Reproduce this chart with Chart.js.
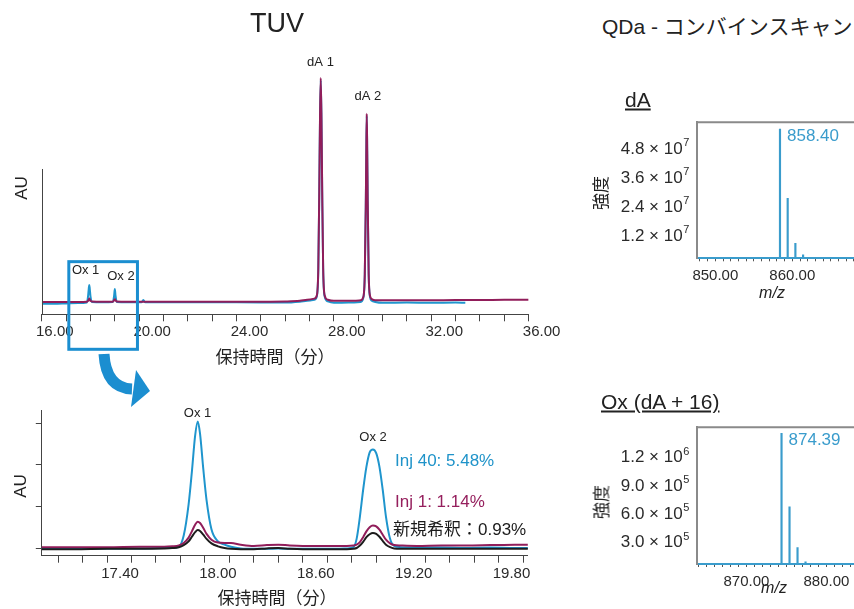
<!DOCTYPE html>
<html>
<head>
<meta charset="utf-8">
<script src="https://cdn.jsdelivr.net/npm/chart.js@4.4.1/dist/chart.umd.min.js"></script>
<style>
html, body { margin: 0; padding: 0; background: #fff; overflow: hidden; }
body { width: 854px; height: 609px; position: relative; font-family: "Liberation Sans", "Noto Sans CJK JP", sans-serif; color: #222; }
canvas { position: absolute; }
.c { position: absolute; white-space: nowrap; line-height: 1; transform: translate(-50%, -50%); }
.l { position: absolute; white-space: nowrap; line-height: 1; transform: translateY(-50%); }
.r { position: absolute; white-space: nowrap; line-height: 1; transform: translate(-50%, -50%) rotate(-90deg); }
</style>
</head>
<body>
<canvas id="tuvTop" width="580" height="380" style="left:0;top:0"></canvas>
<canvas id="tuvZoom" width="580" height="229" style="left:0;top:380px"></canvas>
<canvas id="msDA" width="310" height="210" style="left:560px;top:100px"></canvas>
<canvas id="msOx" width="310" height="204" style="left:560px;top:405px"></canvas>

<svg style="position:absolute;left:0;top:0" width="560" height="609">
  <path d="M104 354 Q106 388 132 389" stroke="#1b8ed0" stroke-width="11" fill="none"/>
  <polygon points="136,370 150,391 131,407" fill="#1b8ed0"/>
</svg>

<div class="c" style="left:277px;top:23px;font-size:27px">TUV</div>
<div class="l" style="left:602px;top:26px;font-size:21px">QDa - コンバインスキャン</div>
<div class="r" style="left:21px;top:188px;font-size:17px">AU</div>
<div class="r" style="left:20px;top:486px;font-size:17px">AU</div>
<div class="c" style="left:275px;top:357px;font-size:17px">保持時間（分）</div>
<div class="c" style="left:277px;top:598px;font-size:17px">保持時間（分）</div>
<div class="l" style="left:395px;top:460px;font-size:17px;color:#1f93c9">Inj 40: 5.48%</div>
<div class="l" style="left:395px;top:501px;font-size:17px;color:#951f5d">Inj 1: 1.14%</div>
<div class="l" style="left:393px;top:529px;font-size:17px;color:#1a1a1a">新規希釈：0.93%</div>
<div class="l" style="left:625px;top:99px;font-size:21px;text-decoration:underline">dA</div>
<div class="l" style="left:601px;top:401px;font-size:21px;text-decoration:underline">Ox (dA + 16)</div>
<div class="r" style="left:601px;top:193px;font-size:17px">強度</div>
<div class="r" style="left:602px;top:502px;font-size:17px">強度</div>
<div class="c" style="left:772px;top:293px;font-size:16px;font-style:italic">m/z</div>
<div class="c" style="left:774px;top:588px;font-size:16px;font-style:italic">m/z</div>

<script>
// TUV overview trace (minutes / AU, arbitrary units)
const topTime = [16.0, 16.5, 17.0, 17.5, 17.85, 17.9, 17.93, 17.95, 17.97, 18.0, 18.06, 18.5, 18.92, 18.97, 19.0, 19.03, 19.08, 19.5,
  20.1, 20.17, 20.25, 22.0, 24.0, 26.0, 26.6, 26.9, 27.2, 27.3, 27.36, 27.40, 27.43, 27.46, 27.49, 27.52, 27.56, 27.62, 27.75,
  28.0, 28.6, 29.1, 29.2, 29.27, 29.31, 29.33, 29.35, 29.37, 29.39, 29.43, 29.48, 29.56, 29.7, 30.0, 31.0, 32.0, 33.0, 33.4,
  34.0, 35.0, 36.0];
const topInj1 = [0, 0, 0, 0, 0.05, 0.2, 0.45, 0.6, 0.45, 0.2, 0.1, 0.05, 0.05, 0.3, 0.5, 0.3, 0.08, 0.05,
  0.05, 0.05, 0.05, 0.05, 0.05, 0.1, 0.2, 0.4, 0.6, 1.2, 6, 20, 33, 40, 33, 20, 6, 1.2, 0.4,
  0.2, 0.2, 0.3, 0.8, 5, 17, 26, 33.6, 27, 18, 5, 1.2, 0.5, 0.3, 0.3, 0.3, 0.3, 0.35, 0.35,
  0.35, 0.4, 0.4];
const topInj40 = [-0.3, -0.3, -0.25, -0.2, -0.1, 1.0, 2.4, 3.04, 2.4, 1.0, 0.0, -0.05, 0.0, 1.1, 2.3, 1.1, 0.0, -0.05,
  -0.05, 0.35, -0.05, -0.05, -0.05, -0.1, 0.05, 0.2, 0.4, 1.0, 5.8, 19.5, 32.5, 39.6, 32.5, 19.5, 5.8, 1.0, 0.1,
  -0.15, -0.1, 0.0, 0.6, 4.8, 16.5, 25.5, 33.2, 26.5, 17.5, 4.8, 1.0, 0.2, 0.0, -0.15, -0.1, -0.15, -0.1, -0.15,
  null, null, null];
const topTickLabelValues = [16, 20, 24, 28, 32, 36];
const topTickLabels = ['16.00', '20.00', '24.00', '28.00', '32.00', '36.00'];

// zoomed Ox region
const zoomTime = [17.00, 17.20, 17.40, 17.60, 17.75, 17.80, 17.84, 17.87, 17.90, 17.92, 17.94, 17.956, 17.97, 17.99, 18.01, 18.04,
  18.08, 18.12, 18.16, 18.22, 18.30, 18.38, 18.45, 18.52, 18.60, 18.70, 18.80, 18.87, 18.91, 18.93, 18.95, 18.97,
  18.99, 19.01, 19.03, 19.05, 19.07, 19.09, 19.11, 19.135, 19.16, 19.20, 19.30, 19.45, 19.60, 19.75, 19.90, 19.98];
const zoomInj40 = [-0.02, -0.02, -0.01, -0.01, 0.0, 0.0, 0.03, 0.3, 1.05, 1.83, 2.7, 3.04, 2.75, 1.9, 1.15, 0.45,
  0.16, 0.08, 0.03, -0.01, -0.02, -0.02, -0.01, -0.02, -0.02, -0.02, -0.02, -0.01, 0.02, 0.22, 0.75, 1.4,
  1.95, 2.3, 2.37, 2.28, 1.95, 1.4, 0.75, 0.22, 0.05, 0.02, 0.01, 0.01, 0.0, 0.01, 0.0, 0.0];
const zoomInj1 = [0.02, 0.02, 0.02, 0.03, 0.03, 0.04, 0.06, 0.12, 0.25, 0.40, 0.56, 0.63, 0.60, 0.48, 0.34, 0.20,
  0.13, 0.12, 0.12, 0.08, 0.05, 0.07, 0.08, 0.06, 0.05, 0.05, 0.05, 0.05, 0.06, 0.08, 0.14, 0.26,
  0.40, 0.50, 0.54, 0.52, 0.44, 0.32, 0.20, 0.11, 0.07, 0.06, 0.05, 0.06, 0.06, 0.07, 0.08, 0.08];
const zoomFresh = [-0.03, -0.03, -0.02, -0.02, -0.01, 0.0, 0.02, 0.07, 0.16, 0.27, 0.38, 0.43, 0.41, 0.32, 0.22, 0.11,
  0.04, 0.0, -0.02, -0.03, -0.03, -0.01, 0.0, -0.02, -0.03, -0.03, -0.03, -0.03, -0.02, 0.0, 0.06, 0.15,
  0.26, 0.33, 0.36, 0.34, 0.27, 0.17, 0.08, 0.02, -0.01, -0.02, -0.02, -0.02, -0.02, -0.02, -0.02, -0.02];
const zoomTicks = [17.10, 17.25, 17.40, 17.55, 17.70, 17.85, 18.00, 18.15, 18.30, 18.45, 18.60, 18.75, 18.90, 19.05,
  19.20, 19.35, 19.50, 19.65, 19.80, 19.95];
const zoomTickLabelValues = [17.40, 18.00, 18.60, 19.20, 19.80];
const zoomTickLabels = ['17.40', '18.00', '18.60', '19.20', '19.80'];

// QDa spectra
const dAmz = [858.40, 859.40, 860.40, 861.40];
const dAint = [5.33e7, 2.47e7, 0.62e7, 0.14e7];
const dAyTicks = [1.2e7, 2.4e7, 3.6e7, 4.8e7];
const dAyMant = ['1.2', '2.4', '3.6', '4.8'];
const dAyExp = ['7', '7', '7', '7'];
const dAxLabelValues = [850, 860];
const dAxLabels = ['850.00', '860.00'];

const oxMz = [874.39, 875.39, 876.39, 877.39];
const oxInt = [1.386e6, 0.607e6, 0.173e6, 0.024e6];
const oxYTicks = [3.0e5, 6.0e5, 9.0e5, 1.2e6];
const oxYMant = ['3.0', '6.0', '9.0', '1.2'];
const oxYExp = ['5', '5', '5', '6'];
const oxXLabelValues = [870, 880];
const oxXLabels = ['870.00', '880.00'];

const FONT = '"Liberation Sans", "Noto Sans CJK JP", sans-serif';
const BLUE = '#1f95cd';
const PURPLE = '#911d5a';
const BLACK = '#1c1c1c';
const BOX = '#1b8ed0';
const SPEC = '#3a9ccc';
const AXIS = '#444';
const FRAME = '#8a8a8a';
const TXT = '#2a2a2a';

Chart.defaults.font.family = FONT;
Chart.defaults.color = TXT;

function pts(xs, ys) { return xs.map((x, i) => ({ x: x, y: ys[i] })); }
function pick(v, vals, labels) {
  const i = vals.findIndex(u => Math.abs(u - v) < 1e-6);
  return i < 0 ? '' : labels[i];
}
function setTicks(list) { return s => { s.ticks = list.map(v => ({ value: v })); }; }
function range(a, b) { const r = []; for (let v = a; v <= b; v++) r.push(v); return r; }

function peakText(items) {
  return {
    id: 'peakText',
    afterDraw(chart) {
      const ctx = chart.ctx, xs = chart.scales.x, ys = chart.scales.y;
      ctx.save();
      ctx.font = '13px ' + FONT;
      ctx.fillStyle = '#222';
      ctx.textAlign = 'center';
      ctx.textBaseline = 'middle';
      items.forEach(it => ctx.fillText(it.text, xs.getPixelForValue(it.x), ys.getPixelForValue(it.y)));
      ctx.restore();
    }
  };
}

const common = {
  responsive: false,
  animation: false,
  devicePixelRatio: 1,
  plugins: { legend: { display: false }, tooltip: { enabled: false } },
  elements: { point: { radius: 0 }, line: { cubicInterpolationMode: 'monotone', borderJoinStyle: 'round' } }
};

// ---- TUV overview ----
new Chart(document.getElementById('tuvTop'), {
  type: 'line',
  data: {
    datasets: [
      { label: 'Inj 1', data: pts(topTime, topInj1), borderColor: PURPLE, borderWidth: 2, order: 1 },
      { label: 'Inj 40', data: pts(topTime, topInj40), borderColor: BLUE, borderWidth: 2, order: 2 }
    ]
  },
  options: Object.assign({}, common, {
    layout: { autoPadding: false, padding: { left: 31.8, right: 51.4, top: 72.4, bottom: 25.7 } },
    scales: {
      x: {
        type: 'linear', min: 16, max: 36,
        afterFit: s => { s.height = 40; },
        afterBuildTicks: setTicks(range(16, 36)),
        grid: { drawOnChartArea: false, tickLength: 7, color: AXIS },
        border: { color: AXIS, width: 1 },
        ticks: { autoSkip: false, maxRotation: 0, labelOffset: 13, padding: 2, font: { size: 15 },
          callback: v => pick(v, topTickLabelValues, topTickLabels) }
      },
      y: {
        min: -2.2, max: 41,
        afterFit: s => { s.width = 10; },
        grid: { display: false }, border: { display: false }, ticks: { display: false }
      }
    }
  }),
  plugins: [
    peakText([
      { text: 'Ox 1', x: 17.80, y: 5.6 },
      { text: 'Ox 2', x: 19.25, y: 4.5 },
      { text: 'dA 1', x: 27.45, y: 42.7 },
      { text: 'dA 2', x: 29.40, y: 36.7 }
    ]),
    {
      id: 'axisAndBox',
      afterDraw(chart) {
        const ctx = chart.ctx, a = chart.chartArea, xs = chart.scales.x, ys = chart.scales.y;
        ctx.save();
        ctx.strokeStyle = AXIS;
        ctx.lineWidth = 1;
        ctx.beginPath();
        ctx.moveTo(Math.round(a.left) + 0.5, ys.getPixelForValue(23.75));
        ctx.lineTo(Math.round(a.left) + 0.5, a.bottom);
        ctx.stroke();
        // zoom window
        const x0 = xs.getPixelForValue(17.11), x1 = xs.getPixelForValue(19.93);
        const y0 = ys.getPixelForValue(7.2), y1 = ys.getPixelForValue(-8.45);
        ctx.strokeStyle = BOX;
        ctx.lineWidth = 3;
        ctx.strokeRect(x0, y0, x1 - x0, y1 - y0);
        ctx.restore();
      }
    }
  ]
});

// ---- TUV zoom ----
new Chart(document.getElementById('tuvZoom'), {
  type: 'line',
  data: {
    datasets: [
      { label: '新規希釈', data: pts(zoomTime, zoomFresh), borderColor: BLACK, borderWidth: 2, order: 1 },
      { label: 'Inj 1', data: pts(zoomTime, zoomInj1), borderColor: PURPLE, borderWidth: 2, order: 2 },
      { label: 'Inj 40', data: pts(zoomTime, zoomInj40), borderColor: BLUE, borderWidth: 2, order: 3 }
    ]
  },
  options: Object.assign({}, common, {
    layout: { autoPadding: false, padding: { left: 31.8, right: 52.1, top: 30.7, bottom: 23.3 } },
    scales: {
      x: {
        type: 'linear', min: 17.0, max: 19.98,
        afterFit: s => { s.height = 30; },
        afterBuildTicks: setTicks(zoomTicks),
        grid: { drawOnChartArea: false, tickLength: 7, color: AXIS },
        border: { color: AXIS, width: 1 },
        ticks: { autoSkip: false, maxRotation: 0, labelOffset: 13, padding: 2, font: { size: 15 },
          callback: v => pick(v, zoomTickLabelValues, zoomTickLabels) }
      },
      y: {
        min: -0.185, max: 3.3,
        afterFit: s => { s.width = 10; },
        afterBuildTicks: setTicks([0, 1, 2, 3]),
        grid: { drawOnChartArea: false, tickLength: 6, color: AXIS },
        border: { color: AXIS, width: 1 },
        ticks: { callback: () => '' }
      }
    }
  }),
  plugins: [
    peakText([
      { text: 'Ox 1', x: 17.955, y: 3.24 },
      { text: 'Ox 2', x: 19.031, y: 2.66 }
    ])
  ]
});

// ---- mass spectra ----
function specPlugin(cfg) {
  return {
    id: 'spec',
    afterDraw(chart) {
      const ctx = chart.ctx, a = chart.chartArea, xs = chart.scales.x, ys = chart.scales.y;
      ctx.save();
      ctx.strokeStyle = FRAME;
      ctx.lineWidth = 2;
      ctx.beginPath();
      ctx.moveTo(a.left - 1, a.top);
      ctx.lineTo(a.right, a.top);
      ctx.stroke();
      const R = a.left - 8;
      ctx.fillStyle = TXT;
      ctx.textBaseline = 'middle';
      ctx.textAlign = 'right';
      cfg.yTicks.forEach((v, i) => {
        const py = ys.getPixelForValue(v);
        ctx.font = '11px ' + FONT;
        const ew = ctx.measureText(cfg.yExp[i]).width;
        ctx.fillText(cfg.yExp[i], R, py + 1);
        ctx.font = '17px ' + FONT;
        ctx.fillText(cfg.yMant[i] + ' × 10', R - ew - 0.5, py + 7);
      });
      const px = xs.getPixelForValue(cfg.mz[0]), pk = ys.getPixelForValue(cfg.int[0]);
      ctx.font = '17px ' + FONT;
      ctx.fillStyle = SPEC;
      ctx.textAlign = 'left';
      ctx.fillText(cfg.mz[0].toFixed(2), px + 7, pk + 7);
      ctx.restore();
    }
  };
}

function spectrum(id, mz, inten, xmin, xmax, ymax, pad, xLabVals, xLabs, yTicks, yMant, yExp) {
  new Chart(document.getElementById(id), {
    type: 'bar',
    data: { datasets: [{ data: pts(mz, inten), backgroundColor: SPEC, barThickness: 1.5, borderWidth: 0 }] },
    options: Object.assign({}, common, {
      layout: { autoPadding: false, padding: pad },
      scales: {
        x: {
          type: 'linear', min: xmin, max: xmax, offset: false,
          afterFit: s => { s.height = 40; },
          afterBuildTicks: setTicks(range(Math.ceil(xmin), Math.floor(xmax))),
          grid: { offset: false, drawOnChartArea: false, tickLength: 3, color: '#555' },
          border: { color: SPEC, width: 2 },
          ticks: { autoSkip: false, maxRotation: 0, padding: 6, font: { size: 15 },
            callback: v => pick(v, xLabVals, xLabs) }
        },
        y: {
          min: 0, max: ymax,
          afterFit: s => { s.width = 10; },
          grid: { display: false },
          border: { color: FRAME, width: 2 },
          ticks: { display: false }
        }
      }
    }),
    plugins: [specPlugin({ mz: mz, int: inten, yTicks: yTicks, yMant: yMant, yExp: yExp })]
  });
}

spectrum('msDA', dAmz, dAint, 847.66, 869, 5.61e7,
  { left: 127.3, right: 8.4, top: 22.3, bottom: 11.7 }, dAxLabelValues, dAxLabels, dAyTicks, dAyMant, dAyExp);
spectrum('msOx', oxMz, oxInt, 863.86, 884, 1.449e6,
  { left: 127.3, right: 11.6, top: 22.3, bottom: 5 }, oxXLabelValues, oxXLabels, oxYTicks, oxYMant, oxYExp);
</script>
</body>
</html>
